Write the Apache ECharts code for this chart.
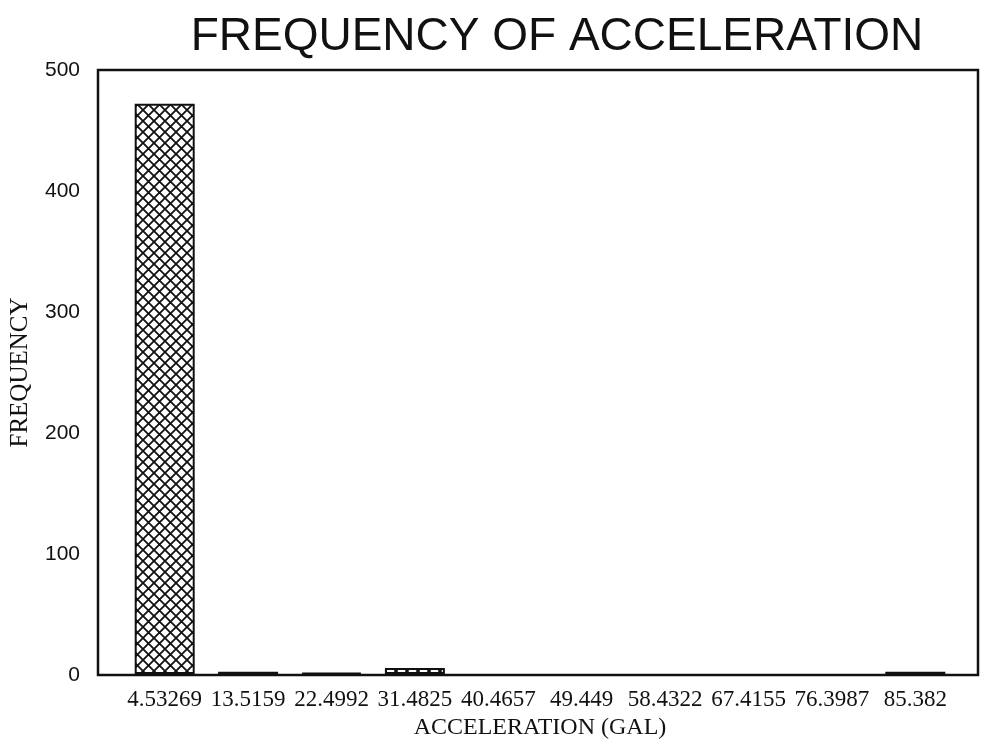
<!DOCTYPE html>
<html>
<head>
<meta charset="utf-8">
<style>
  html, body { margin: 0; padding: 0; background: #ffffff; }
  #chart { width: 981px; height: 745px; }
</style>
<script src="https://cdn.jsdelivr.net/npm/echarts@6/dist/echarts.min.js"></script>
</head>
<body>
<div id="chart"></div>
<script>
// Acceleration bins (GAL) and the number of records in each bin
const categories = ['4.53269', '13.5159', '22.4992', '31.4825', '40.4657',
                    '49.449', '58.4322', '67.4155', '76.3987', '85.382'];
const frequencies = [472, 2, 1, 5, 0, 0, 0, 0, 0, 2];
const yTicks = [0, 100, 200, 300, 400, 500];

// Cross-hatch fill for the bars
function hatchPattern() {
  const size = 11;
  const c = document.createElement('canvas');
  c.width = size; c.height = size;
  const g = c.getContext('2d');
  g.fillStyle = '#ffffff';
  g.fillRect(0, 0, size, size);
  g.strokeStyle = '#111111';
  g.lineWidth = 1.8;
  g.lineCap = 'square';
  g.beginPath();
  g.moveTo(0, 0); g.lineTo(size, size);
  g.moveTo(size, 0); g.lineTo(0, size);
  g.stroke();
  return c;
}

const chart = echarts.init(document.getElementById('chart'), null, { renderer: 'canvas' });

const yMax = yTicks[yTicks.length - 1];
const yStep = yTicks[1] - yTicks[0];

const serif = 'Liberation Serif, Times New Roman, serif';
const sans = 'Liberation Sans, Arial, sans-serif';

// empty bins get no outline so nothing is drawn for them
const barData = frequencies.map(v => v > 0 ? v : { value: v, itemStyle: { borderWidth: 0, opacity: 0 } });

chart.setOption({
  backgroundColor: '#ffffff',
  animation: false,
  title: {
    text: 'FREQUENCY OF ACCELERATION',
    left: 552,
    textAlign: 'center',
    top: 9,
    textStyle: {
      fontFamily: sans,
      fontWeight: 'normal',
      fontSize: 46,
      color: '#111111'
    }
  },
  grid: [
    // framed plot area carrying the frequency scale
    { left: 98, right: 3, top: 70, bottom: 70, show: true,
      borderColor: '#111111', borderWidth: 2.5, backgroundColor: 'transparent' },
    // inner band holding the bins
    { left: 123, width: 834, top: 70, bottom: 70 }
  ],
  xAxis: [
    { gridIndex: 0, type: 'value', show: false, min: 0, max: 1 },
    {
      gridIndex: 1,
      type: 'category',
      data: categories,
      boundaryGap: true,
      axisLine: { show: false },
      axisTick: { show: false },
      axisLabel: {
        interval: 0,
        margin: 14,
        fontFamily: serif,
        fontSize: 23,
        color: '#111111'
      },
      name: 'ACCELERATION (GAL)',
      nameLocation: 'middle',
      nameGap: 37,
      nameTextStyle: {
        fontFamily: serif,
        fontSize: 24,
        color: '#111111'
      }
    }
  ],
  yAxis: [
    {
      gridIndex: 0,
      type: 'value',
      min: yTicks[0],
      max: yMax,
      interval: yStep,
      axisLine: { show: false },
      axisTick: { show: false },
      splitLine: { show: false },
      axisLabel: {
        margin: 18,
        fontFamily: sans,
        fontSize: 21,
        color: '#111111'
      },
      name: 'FREQUENCY',
      nameLocation: 'middle',
      nameRotate: 90,
      nameGap: 65,
      nameTextStyle: {
        fontFamily: serif,
        fontSize: 25,
        color: '#111111'
      }
    },
    { gridIndex: 1, type: 'value', min: yTicks[0], max: yMax, show: false }
  ],
  series: [
    {
      type: 'bar',
      xAxisIndex: 1,
      yAxisIndex: 1,
      data: barData,
      barWidth: 60,
      itemStyle: {
        color: { image: hatchPattern(), repeat: 'repeat' },
        borderColor: '#111111',
        borderWidth: 2
      },
      emphasis: { disabled: true }
    }
  ]
});
</script>
</body>
</html>
